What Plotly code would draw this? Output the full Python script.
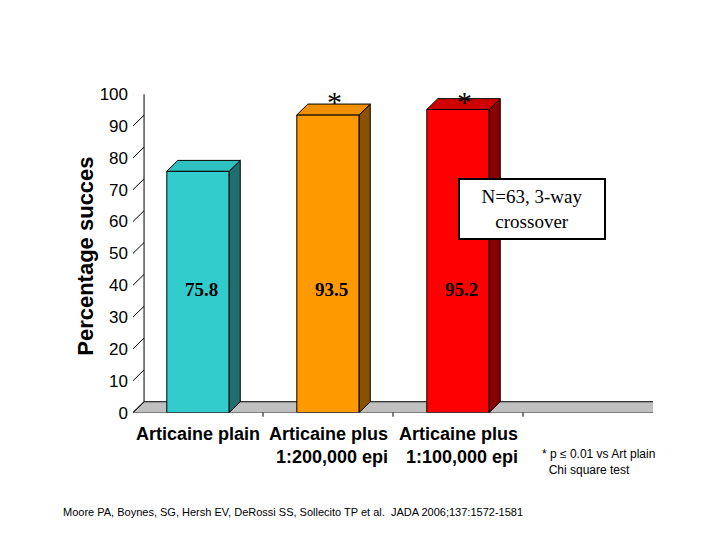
import plotly.graph_objects as go

categories = ["Articaine plain", "Articaine plus<br>1:200,000 epi", "Articaine plus<br>1:100,000 epi"]
values = [75.8, 93.5, 95.2]
front_colors = ["#33CCCC", "#FF9900", "#FF0000"]
side_colors = ["#216E6E", "#8A5200", "#880000"]
top_colors = ["#2FC0C0", "#F09000", "#D00000"]
yticks = [0, 10, 20, 30, 40, 50, 60, 70, 80, 90, 100]
stars = ["", "*", "*"]

xs = [0, 1, 2]
w = 0.48
dx, dy = 0.085, 3.4

X0, X1 = 125 / 720, 645 / 720
Y0, Y1 = (540 - 410) / 540, (540 - 80) / 540

fig = go.Figure()
fig.add_trace(go.Bar(x=xs, y=values, width=w, marker=dict(color=front_colors, line=dict(color="black", width=1)),
                     hoverinfo="skip"))
shapes = []
shapes.append(dict(type="path", xref="x", yref="y",
                   path=f"M -0.5 0 L 3.5 0 L {3.5+dx} {dy} L {-0.5+dx} {dy} Z",
                   fillcolor="#C0C0C0", line=dict(color="black", width=1), layer="below"))
shapes.append(dict(type="line", xref="x", yref="y", x0=-0.5+dx, y0=dy, x1=-0.5+dx, y1=100+dy,
                   line=dict(color="black", width=1), layer="below"))
for t in yticks:
    shapes.append(dict(type="line", xref="x", yref="y", x0=-0.5, y0=t, x1=-0.5+dx, y1=t+dy,
                       line=dict(color="black", width=1), layer="below"))
for d in [0.5, 1.5, 2.5]:
    shapes.append(dict(type="line", xref="x", yref="paper", x0=d, y0=Y0, x1=d, y1=Y0 - 0.008,
                       line=dict(color="black", width=1)))
for x, v, sc, tc in zip(xs, values, side_colors, top_colors):
    x0, x1 = x - w / 2, x + w / 2
    shapes.append(dict(type="path", xref="x", yref="y",
                       path=f"M {x1} 0 L {x1} {v} L {x1+dx} {v+dy} L {x1+dx} {dy} Z",
                       fillcolor=sc, line=dict(color="black", width=1)))
    shapes.append(dict(type="path", xref="x", yref="y",
                       path=f"M {x0} {v} L {x1} {v} L {x1+dx} {v+dy} L {x0+dx} {v+dy} Z",
                       fillcolor=tc, line=dict(color="black", width=1)))

ann = []
for x, v, s in zip(xs, values, stars):
    ann.append(dict(x=x + 0.03, y=38.5, xref="x", yref="y", text=f"<b>{v}</b>", showarrow=False,
                    font=dict(family="Liberation Serif", size=19, color="black")))
    if s:
        ann.append(dict(x=x + 0.05, y=1 - 88 / 540, xref="x", yref="paper", text=s, showarrow=False,
                        yanchor="middle", font=dict(family="Liberation Serif", size=30, color="black")))
for x, c in zip(xs, categories):
    ann.append(dict(x=x, y=1 - 420 / 540, xref="x", yref="paper", text=f"<b>{c}</b>", showarrow=False,
                    yanchor="top", align="right" if "<br>" in c else "center",
                    font=dict(family="Liberation Sans Narrow, Liberation Sans", size=18, color="black")))
ann.append(dict(x=598 / 720, y=1 - 199 / 540, xref="paper", yref="paper",
                text="N=63, 3-way<br>crossover", showarrow=False, bgcolor="white",
                bordercolor="black", borderwidth=2, borderpad=6, width=132,
                font=dict(family="Liberation Serif", size=19, color="black")))
ann.append(dict(x=532 / 720, y=1 - 444 / 540, xref="paper", yref="paper", xanchor="left", yanchor="top",
                text="* p ≤ 0.01 vs Art plain<br>  Chi square test", showarrow=False, align="left",
                font=dict(family="Liberation Sans", size=12, color="black")))
ann.append(dict(x=53 / 720, y=1 - 513 / 540, xref="paper", yref="paper", xanchor="left", yanchor="middle",
                text="Moore PA, Boynes, SG, Hersh EV, DeRossi SS, Sollecito TP et al.  JADA 2006;137:1572-1581",
                showarrow=False, font=dict(family="Liberation Sans", size=11, color="black")))
ann.append(dict(x=63 / 720, y=1 - 248 / 540, xref="paper", yref="paper", text="<b>Percentage succes</b>",
                textangle=-90, showarrow=False,
                font=dict(family="Liberation Sans Narrow, Liberation Sans", size=22, color="black")))

fig.update_layout(
    width=720, height=540, margin=dict(l=0, r=0, t=0, b=0),
    paper_bgcolor="white", plot_bgcolor="white", showlegend=False,
    shapes=shapes, annotations=ann,
    xaxis=dict(domain=[X0, X1], range=[-0.5, 3.5], showticklabels=False, showgrid=False,
               zeroline=False, fixedrange=True),
    yaxis=dict(domain=[Y0, Y1], range=[0, 100], tickvals=yticks, showgrid=False,
               zeroline=False, ticks="", ticklabelstandoff=4,
               tickprefix="<b>", ticksuffix="</b>",
               tickfont=dict(family="Liberation Sans", size=17, color="black")),
)
fig.write_html("out.html")
